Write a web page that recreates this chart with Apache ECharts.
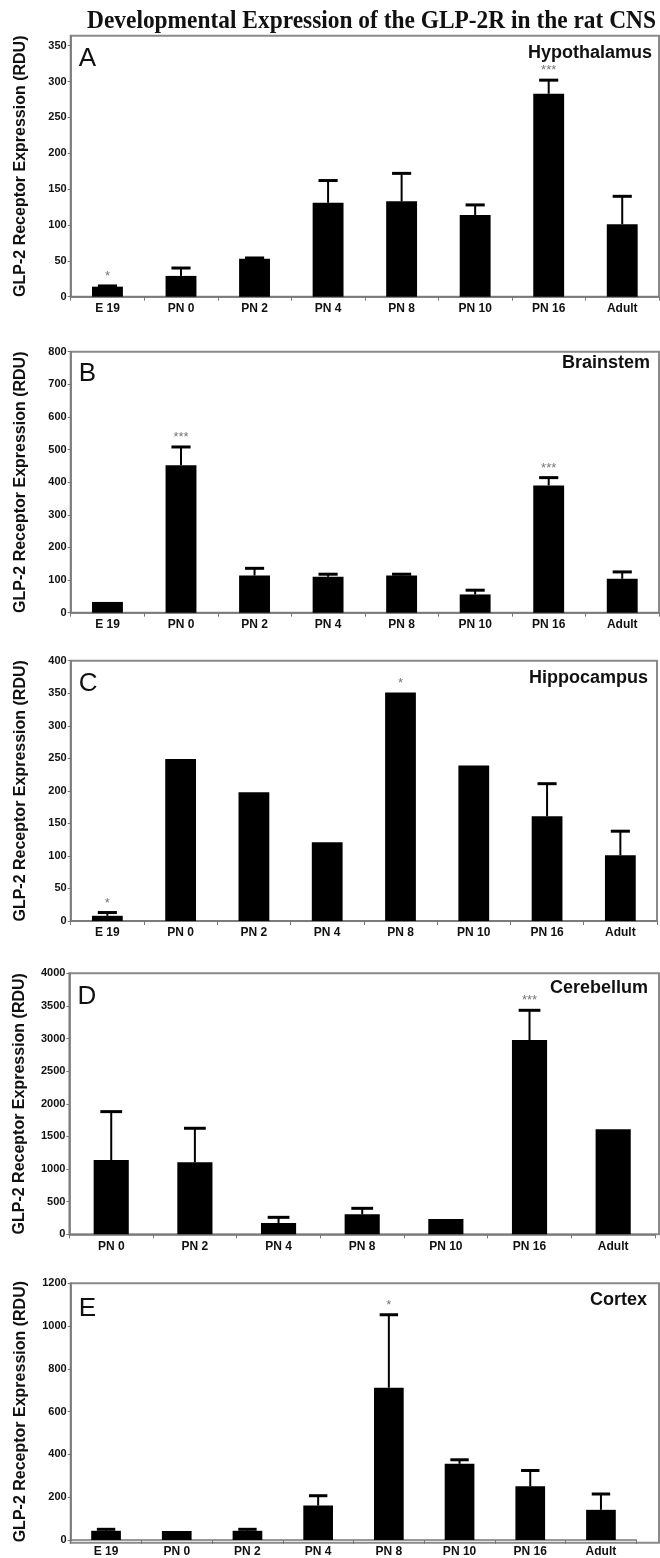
<!DOCTYPE html>
<html>
<head>
<meta charset="utf-8">
<script src="https://cdn.jsdelivr.net/npm/echarts@6/dist/echarts.min.js"></script>
<style>
html,body{margin:0;padding:0;background:#fff;}
#chart{width:660px;height:1558px;}
</style>
</head>
<body>
<div id="chart"></div>
<script>
// ---- data ----
const categories8 = ['E 19', 'PN 0', 'PN 2', 'PN 4', 'PN 8', 'PN 10', 'PN 16', 'Adult'];
const categories7 = ['PN 0', 'PN 2', 'PN 4', 'PN 8', 'PN 10', 'PN 16', 'Adult'];

const hypoMean  = [14, 29, 53, 131, 133, 114, 283, 101];
const hypoUpper = [15, 40, 54, 162, 172, 128, 302, 140];
const hypoStars = ['*', '', '', '', '', '', '***', ''];

const brainMean  = [33, 452, 114, 110, 114, 56, 390, 104];
const brainUpper = [33, 508, 136, 118, 118, 69, 414, 125];
const brainStars = ['', '***', '', '', '', '', '***', ''];

const hippoMean  = [8, 249, 198, 121, 351, 239, 161, 101];
const hippoUpper = [13, 249, 198, 121, 351, 239, 211, 138];
const hippoStars = ['*', '', '', '', '*', '', '', ''];

const cereMean  = [1139, 1103, 174, 306, 235, 2978, 1609];
const cereUpper = [1880, 1625, 260, 398, 235, 3433, 1609];
const cereStars = ['', '', '', '', '', '***', ''];

const cortexMean  = [43, 42, 43, 161, 712, 356, 251, 141];
const cortexUpper = [50, 42, 50, 207, 1053, 375, 325, 215];
const cortexStars = ['', '', '', '', '*', '', '', ''];

const yTicksA = {max: 364, interval: 50};
const yTicksB = {max: 800, interval: 100};
const yTicksC = {max: 400, interval: 50};
const yTicksD = {max: 4000, interval: 500};
const yTicksE = {max: 1200, interval: 200};

const mainTitle = 'Developmental Expression of the GLP-2R in the rat CNS';
const yName = 'GLP-2 Receptor Expression (RDU)';

// ---- layout ----
const panels = [
  {letter:'A', region:'Hypothalamus', cats:categories8, mean:hypoMean, upper:hypoUpper, stars:hypoStars, ticks:yTicksA,
   left:70.7, top:35.7, height:261, axisRight:660-659, boxRight:659, letterY:59, regionY:53, regionX:652},
  {letter:'B', region:'Brainstem', cats:categories8, mean:brainMean, upper:brainUpper, stars:brainStars, ticks:yTicksB,
   left:70.7, top:351.7, height:261, axisRight:660-659, boxRight:659, letterY:374, regionY:363, regionX:650},
  {letter:'C', region:'Hippocampus', cats:categories8, mean:hippoMean, upper:hippoUpper, stars:hippoStars, ticks:yTicksC,
   left:70.7, top:660.7, height:260.3, axisRight:660-657, boxRight:657, letterY:684, regionY:678, regionX:648},
  {letter:'D', region:'Cerebellum', cats:categories7, mean:cereMean, upper:cereUpper, stars:cereStars, ticks:yTicksD,
   left:69.4, top:973.3, height:261, axisRight:660-655, boxRight:659, letterY:997, regionY:988, regionX:648},
  {letter:'E', region:'Cortex', cats:categories8, mean:cortexMean, upper:cortexUpper, stars:cortexStars, ticks:yTicksE,
   left:70.7, top:1283.3, height:259.4, axisRight:660-636.3, boxRight:659, letterY:1309, regionY:1300, regionX:647}
];

const FONT = '"Liberation Sans", Arial, sans-serif';

const grid = [], xAxis = [], yAxis = [], series = [], graphic = [];

graphic.push({
  type:'text', x:371.5, y:21, scaleX:0.9, z:10,
  style:{text:mainTitle, font:'bold 26px "Liberation Serif", "Times New Roman", serif', fill:'#111', align:'center', verticalAlign:'middle'}
});

panels.forEach(function(p, k){
  grid.push({left:p.left, top:p.top, right:p.axisRight, height:p.height, containLabel:false});
  xAxis.push({
    type:'category', gridIndex:k, data:p.cats,
    axisLine:{lineStyle:{color:'#777', width:1.5}},
    axisTick:{show:true, length:4, lineStyle:{color:'#777'}, alignWithLabel:false},
    axisLabel:{color:'#111', fontFamily:FONT, fontWeight:'bold', fontSize:12, margin:6}
  });
  yAxis.push({
    type:'value', gridIndex:k, min:0, max:p.ticks.max, interval:p.ticks.interval,
    name:yName, nameLocation:'middle', nameRotate:90, nameGap:42,
    nameTextStyle:{color:'#111', fontFamily:FONT, fontWeight:'bold', fontSize:16},
    axisLine:{show:true, lineStyle:{color:'#777', width:1.5}},
    axisTick:{show:true, length:3, lineStyle:{color:'#777'}},
    splitLine:{show:false},
    axisLabel:{color:'#111', fontFamily:FONT, fontWeight:'bold', fontSize:11, margin:4,
      showMaxLabel: p.ticks.max % p.ticks.interval === 0,
      formatter:function(v){ return String(v); }}
  });
  series.push({
    type:'bar', xAxisIndex:k, yAxisIndex:k, data:p.mean, barWidth:'42%',
    itemStyle:{color:'#000'}, silent:true, animation:false
  });
  const errData = p.mean.map(function(m, i){ return [i, m, p.upper[i]]; });
  const stars = p.stars;
  series.push({
    type:'custom', xAxisIndex:k, yAxisIndex:k, data:errData, z:5, silent:true, animation:false,
    encode:{x:0, y:1},
    renderItem:function(params, api){
      const i = api.value(0), m = api.value(1), e = api.value(2);
      const p0 = api.coord([i, m]);
      const p1 = api.coord([i, e]);
      const band = api.size([1, 0])[0];
      const capW = band * 0.42 * 0.62;
      const children = [];
      if (e > m) {
        children.push({type:'line', shape:{x1:p0[0], y1:p0[1], x2:p1[0], y2:p1[1]}, style:{stroke:'#000', lineWidth:2}});
        children.push({type:'line', shape:{x1:p1[0]-capW/2, y1:p1[1], x2:p1[0]+capW/2, y2:p1[1]}, style:{stroke:'#000', lineWidth:3}});
      }
      const s = stars[params.dataIndex];
      if (s) {
        children.push({type:'text', style:{text:s, x:p1[0], y:p1[1]-3, align:'center', verticalAlign:'bottom',
          font:'13px ' + FONT, fill:'#777'}});
      }
      return {type:'group', children:children};
    }
  });
  // panel frame
  graphic.push({
    type:'rect', z:-1, silent:true,
    shape:{x:p.left, y:p.top, width:p.boxRight - p.left, height:p.height},
    style:{fill:'none', stroke:'#8a8a8a', lineWidth:2}
  });
  graphic.push({
    type:'text', x:p.left + 8, y:p.letterY, z:10,
    style:{text:p.letter, font:'26px ' + FONT, fill:'#111', align:'left', verticalAlign:'middle'}
  });
  graphic.push({
    type:'text', x:p.regionX, y:p.regionY, z:10,
    style:{text:p.region, font:'bold 18px ' + FONT, fill:'#111', align:'right', verticalAlign:'middle'}
  });
});

const chart = echarts.init(document.getElementById('chart'), null, {renderer:'canvas'});
chart.setOption({
  animation:false,
  backgroundColor:'#fff',
  grid:grid, xAxis:xAxis, yAxis:yAxis, series:series, graphic:graphic
});
</script>
</body>
</html>
